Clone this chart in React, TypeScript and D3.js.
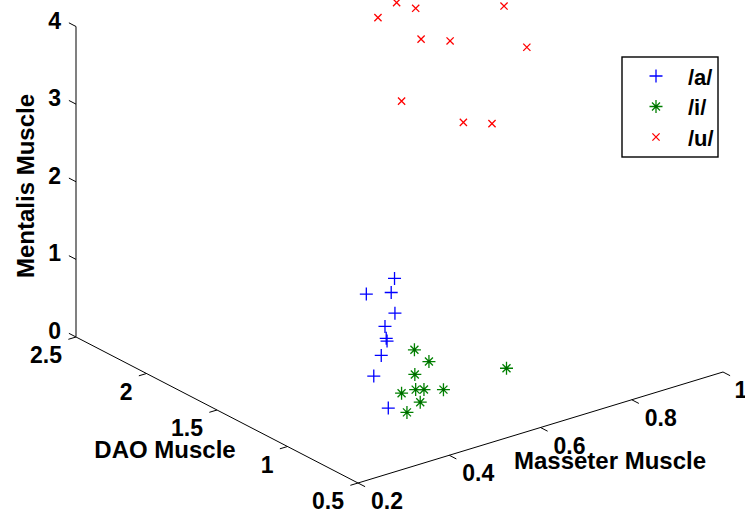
import React, { useEffect, useRef } from 'react';
import * as d3 from 'd3';

// tick values of the three axes
const masseterTicks = [0.2, 0.4, 0.6, 0.8, 1];
const daoTicks = [0.5, 1, 1.5, 2, 2.5];
const mentalisTicks = [0, 1, 2, 3, 4];

const vowels = ['/a/', '/i/', '/u/'];

// /a/
const aMasseter = [0.62, 0.62, 0.52, 0.59, 0.63, 0.54, 0.48, 0.56, 0.42, 0.39];
const aDao = [1.6, 1.8, 1.3, 1.5, 1.7, 1.4, 1.2, 1.5, 1.1, 0.9];
const aMentalis = [0.85, 0.46, 1.13, 0.55, 0.12, 0.41, 0.67, 0.06, 0.42, 0.25];

// /i/
const iMasseter = [0.54, 0.51, 0.51, 0.45, 0.45, 0.53, 0.48, 0.46, 0.4, 0.68];
const iDao = [1.2, 1.0, 1.1, 1.0, 0.9, 1.1, 0.8, 0.9, 0.8, 1.0];
const iMentalis = [0.45, 0.54, 0.28, 0.24, 0.38, 0.05, 0.42, 0.2, 0.27, 0.15];

// /u/
const uMasseter = [0.81, 0.79, 0.8, 0.86, 0.74, 0.68, 0.91, 0.79, 0.74, 0.71];
const uDao = [2.2, 2.0, 2.3, 1.6, 1.8, 1.4, 1.6, 2.1, 1.5, 1.2];
const uMentalis = [3.5, 3.65, 3.23, 3.93, 3.53, 3.99, 3.31, 2.36, 2.74, 3.06];

const W = 745;
const H = 512;
const FONT = '"Liberation Sans", Arial, sans-serif';

type Pt = [number, number];

const App = () => {
  const svgRef = useRef<SVGSVGElement | null>(null);

  useEffect(() => {
    if (!svgRef.current) return;
    const svg = d3.select(svgRef.current);
    svg.selectAll('*').remove();

    // proyeccion 3D -> 2D (vista tipo matlab)
    const origin: Pt = [358, 483];
    const ex: Pt = [365, -111];
    const ey: Pt = [-282, -146];
    const sx = d3.scaleLinear().domain([0.2, 1]).range([0, 1]);
    const sy = d3.scaleLinear().domain([0.5, 2.5]).range([0, 1]);
    const sz = d3.scaleLinear().domain([0, 4]).range([0, -310.5]);
    const project = (x: number, y: number, z: number): Pt => [
      origin[0] + sx(x) * ex[0] + sy(y) * ey[0],
      origin[1] + sx(x) * ex[1] + sy(y) * ey[1] + sz(z),
    ];

    const unit = (v: Pt): Pt => {
      const l = Math.hypot(v[0], v[1]);
      return [v[0] / l, v[1] / l];
    };
    const uy = unit(ey);
    const ux = unit(ex);
    const tl = 8;

    const g = svg.append('g');

    // ejes
    const line = d3.line<Pt>();
    const xa = [project(0.2, 0.5, 0), project(1, 0.5, 0)];
    const ya = [project(0.2, 0.5, 0), project(0.2, 2.5, 0)];
    const za = [project(0.2, 2.5, 0), project(0.2, 2.5, 4)];
    g.append('path').attr('d', line(xa)).attr('stroke', '#000').attr('fill', 'none');
    g.append('path').attr('d', line(ya)).attr('stroke', '#000').attr('fill', 'none');
    g.append('path').attr('d', line(za)).attr('stroke', '#808080').attr('stroke-width', 2).attr('fill', 'none');

    const labelStyle = (s: any) =>
      s.attr('font-family', FONT).attr('font-weight', 'bold').attr('font-size', 23).attr('fill', '#000');

    // ticks masseter
    masseterTicks.forEach(t => {
      const p = project(t, 0.5, 0);
      g.append('path')
        .attr('d', line([p, [p[0] - uy[0] * tl, p[1] - uy[1] * tl]]))
        .attr('stroke', '#000');
      labelStyle(g.append('text'))
        .attr('x', Math.min(p[0] + 29, 741))
        .attr('y', p[1] + 18)
        .attr('text-anchor', 'middle')
        .attr('dominant-baseline', 'central')
        .text(d3.format('~g')(t));
    });

    // ticks DAO
    daoTicks.forEach(t => {
      const p = project(0.2, t, 0);
      g.append('path')
        .attr('d', line([p, [p[0] - ux[0] * tl, p[1] - ux[1] * tl]]))
        .attr('stroke', '#000');
      labelStyle(g.append('text'))
        .attr('x', p[0] - 14)
        .attr('y', p[1] + 18)
        .attr('text-anchor', 'end')
        .attr('dominant-baseline', 'central')
        .text(d3.format('~g')(t));
    });

    // ticks mentalis
    mentalisTicks.forEach(t => {
      const p = project(0.2, 2.5, t);
      g.append('path')
        .attr('d', line([p, [p[0] + uy[0] * tl, p[1] + uy[1] * tl]]))
        .attr('stroke', '#000');
      labelStyle(g.append('text'))
        .attr('x', p[0] - 15)
        .attr('y', p[1] - 6)
        .attr('text-anchor', 'end')
        .attr('dominant-baseline', 'central')
        .text(d3.format('~g')(t));
    });

    // titulos de ejes
    labelStyle(g.append('text'))
      .attr('font-size', 24)
      .attr('x', 610).attr('y', 460)
      .attr('text-anchor', 'middle').attr('dominant-baseline', 'central')
      .text('Masseter Muscle');
    labelStyle(g.append('text'))
      .attr('font-size', 24)
      .attr('x', 165).attr('y', 449)
      .attr('text-anchor', 'middle').attr('dominant-baseline', 'central')
      .text('DAO Muscle');
    labelStyle(g.append('text'))
      .attr('font-size', 24)
      .attr('transform', 'translate(25,186) rotate(-90)')
      .attr('text-anchor', 'middle').attr('dominant-baseline', 'central')
      .text('Mentalis Muscle');

    // marcadores
    const drawPlus = (sel: any, x: number, y: number) => {
      sel.append('path')
        .attr('d', `M${x - 6.5},${y}H${x + 6.5}M${x},${y - 6.5}V${y + 6.5}`)
        .attr('stroke', '#0000ff').attr('stroke-width', 1.3).attr('fill', 'none');
    };
    const drawStar = (sel: any, x: number, y: number) => {
      const d = 4;
      sel.append('path')
        .attr('d', `M${x - 6.5},${y}H${x + 6.5}M${x},${y - 6.5}V${y + 6.5}` +
          `M${x - d},${y - d}L${x + d},${y + d}M${x - d},${y + d}L${x + d},${y - d}`)
        .attr('stroke', '#008000').attr('stroke-width', 1.3).attr('fill', 'none');
      sel.append('circle').attr('cx', x).attr('cy', y).attr('r', 1.4).attr('fill', '#006400');
    };
    const drawX = (sel: any, x: number, y: number) => {
      const d = 3.6;
      sel.append('path')
        .attr('d', `M${x - d},${y - d}L${x + d},${y + d}M${x - d},${y + d}L${x + d},${y - d}`)
        .attr('stroke', '#ff0000').attr('stroke-width', 1.3).attr('fill', 'none');
    };

    const series = [
      { m: aMasseter, d: aDao, z: aMentalis, draw: drawPlus },
      { m: iMasseter, d: iDao, z: iMentalis, draw: drawStar },
      { m: uMasseter, d: uDao, z: uMentalis, draw: drawX },
    ];
    series.forEach(s => {
      s.m.forEach((v, i) => {
        const p = project(v, s.d[i], s.z[i]);
        s.draw(g, p[0], p[1]);
      });
    });

    // leyenda
    const lg = g.append('g').attr('transform', 'translate(622,57)');
    lg.append('rect')
      .attr('width', 96).attr('height', 100)
      .attr('fill', '#fff').attr('stroke', '#000').attr('stroke-width', 1.4);
    vowels.forEach((v, i) => {
      const yy = 19 + i * 30.5;
      series[i].draw(lg, 34, yy);
      labelStyle(lg.append('text'))
        .attr('font-size', 22)
        .attr('x', 66).attr('y', yy + 1)
        .attr('dominant-baseline', 'central')
        .text(v);
    });
  }, []);

  return (
    <div style={{ position: 'absolute', left: 0, top: 0, background: '#fff' }}>
      <svg ref={svgRef} width={W} height={H} style={{ display: 'block' }}></svg>
    </div>
  );
};

export default App;
